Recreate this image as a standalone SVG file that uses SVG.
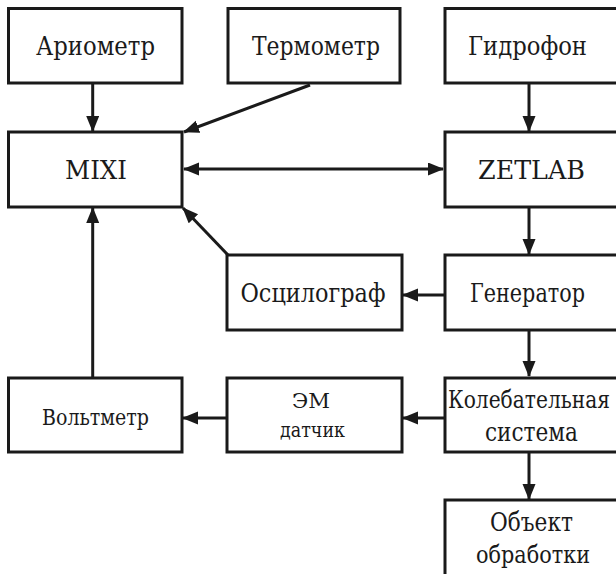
<svg xmlns="http://www.w3.org/2000/svg" width="616" height="574" viewBox="0 0 616 574">
<style>
.box{fill:#fff;stroke:#1a1a1a;stroke-width:3}
.c{stroke:#1a1a1a;stroke-width:3;fill:none}
</style>
<defs>
<marker id="ah" markerUnits="userSpaceOnUse" markerWidth="16" markerHeight="14" refX="15" refY="6.5" orient="auto-start-reverse">
<path d="M0,0 L16,6.5 L0,13 z" fill="#1a1a1a"/>
</marker>
</defs>
<rect width="616" height="574" fill="#fff"/>
<g id="connectors">
<line class="c" x1="92.7" y1="83" x2="92.7" y2="131" marker-end="url(#ah)"/>
<line class="c" x1="310" y1="85" x2="184" y2="132" marker-end="url(#ah)"/>
<line class="c" x1="529" y1="83" x2="529" y2="131" marker-end="url(#ah)"/>
<line class="c" x1="184" y1="169" x2="443" y2="169" marker-start="url(#ah)" marker-end="url(#ah)"/>
<line class="c" x1="529" y1="207" x2="529" y2="254" marker-end="url(#ah)"/>
<line class="c" x1="228" y1="255" x2="183" y2="208" marker-end="url(#ah)"/>
<line class="c" x1="445" y1="295" x2="403" y2="295" marker-end="url(#ah)"/>
<line class="c" x1="529" y1="330" x2="529" y2="376" marker-end="url(#ah)"/>
<line class="c" x1="92.7" y1="378" x2="92.7" y2="208" marker-end="url(#ah)"/>
<line class="c" x1="445" y1="418" x2="403" y2="418" marker-end="url(#ah)"/>
<line class="c" x1="227" y1="418" x2="183" y2="418" marker-end="url(#ah)"/>
<line class="c" x1="529" y1="452" x2="529" y2="499" marker-end="url(#ah)"/>
</g>
<g font-family="'DejaVu Serif', 'Liberation Serif', serif" font-size="26" fill="#1a1a1a" text-anchor="middle">
<g id="n-areometer"><rect class="box" x="8.5" y="8.5" width="173.5" height="74.5"/><text x="95.5" y="55" textLength="119" lengthAdjust="spacingAndGlyphs">Ариометр</text></g>
<g id="n-thermometer"><rect class="box" x="228" y="8.5" width="172" height="74.5"/><text x="316" y="55" textLength="128" lengthAdjust="spacingAndGlyphs">Термометр</text></g>
<g id="n-hydrophone"><rect class="box" x="445" y="8.5" width="175" height="74.5"/><text x="527.5" y="55" textLength="119" lengthAdjust="spacingAndGlyphs">Гидрофон</text></g>
<g id="n-mixi"><rect class="box" x="8.5" y="132" width="173.5" height="75"/><text x="96" y="179" textLength="62" lengthAdjust="spacingAndGlyphs">MIXI</text></g>
<g id="n-zetlab"><rect class="box" x="445" y="132" width="175" height="75"/><text x="531.5" y="179" textLength="107" lengthAdjust="spacingAndGlyphs">ZETLAB</text></g>
<g id="n-osc"><rect class="box" x="227" y="255" width="175" height="75"/><text x="313" y="302" textLength="145" lengthAdjust="spacingAndGlyphs">Осцилограф</text></g>
<g id="n-gen"><rect class="box" x="445" y="255" width="175" height="75"/><text x="527.5" y="302" textLength="115" lengthAdjust="spacingAndGlyphs">Генератор</text></g>
<g id="n-volt"><rect class="box" x="8.5" y="378" width="173.5" height="74"/><text x="95.5" y="425" font-size="23" textLength="107" lengthAdjust="spacingAndGlyphs">Вольтметр</text></g>
<g id="n-em"><rect class="box" x="227" y="378" width="175" height="74"/><text x="311" y="408" font-size="21" textLength="38" lengthAdjust="spacingAndGlyphs">ЭМ</text><text x="312.5" y="437" font-size="21" textLength="65" lengthAdjust="spacingAndGlyphs">датчик</text></g>
<g id="n-osc-sys"><rect class="box" x="445" y="378" width="175" height="74"/><text x="529" y="408" font-size="25" textLength="162" lengthAdjust="spacingAndGlyphs">Колебательная</text><text x="531.5" y="441" textLength="93" lengthAdjust="spacingAndGlyphs">система</text></g>
<g id="n-object"><rect class="box" x="445" y="500" width="175" height="90"/><text x="531.5" y="531" textLength="83" lengthAdjust="spacingAndGlyphs">Объект</text><text x="533" y="563" font-size="25" textLength="114" lengthAdjust="spacingAndGlyphs">обработки</text></g>
</g>
</svg>
